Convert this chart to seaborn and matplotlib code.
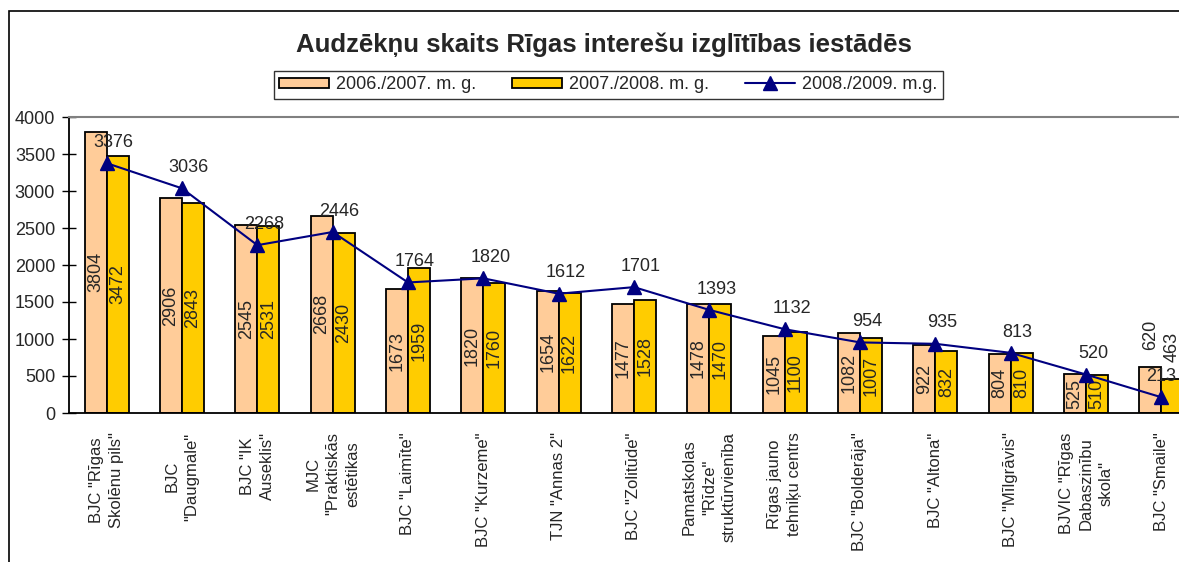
import numpy as np
import pandas as pd
import matplotlib
matplotlib.use("Agg")
import matplotlib.pyplot as plt
from matplotlib.patches import Patch, Rectangle
from matplotlib.lines import Line2D
import seaborn as sns

# Data
schools = [
    'BJC "Rīgas\nSkolēnu pils"',
    'BJC\n"Daugmale"',
    'BJC "IK\nAuseklis"',
    'MJC\n"Praktiskās\nestētikas',
    'BJC "Laimīte"',
    'BJC "Kurzeme"',
    'TJN "Annas 2"',
    'BJC "Zolitūde"',
    'Pamatskolas\n"Rīdze"\nstruktūrvienība',
    'Rīgas jauno\ntehniķu centrs',
    'BJC "Bolderāja"',
    'BJC "Altona"',
    'BJC "Mīlgrāvis"',
    'BJVIC "Rīgas\nDabaszinību\nskola"',
    'BJC "Smaile"',
]
y2006 = [3804, 2906, 2545, 2668, 1673, 1820, 1654, 1477, 1478, 1045, 1082, 922, 804, 525, 620]
y2007 = [3472, 2843, 2531, 2430, 1959, 1760, 1622, 1528, 1470, 1100, 1007, 832, 810, 510, 463]
y2008 = [3376, 3036, 2268, 2446, 1764, 1820, 1612, 1701, 1393, 1132, 954, 935, 813, 520, 213]
series = ["2006./2007. m. g.", "2007./2008. m. g.", "2008./2009. m.g."]
colors = {series[0]: "#FFCC99", series[1]: "#FFCC00"}
line_color = "#000080"

sns.set_theme(style="white")
plt.rcParams["font.family"] = ["Liberation Sans", "DejaVu Sans"]

bars = pd.DataFrame({
    "school": schools * 2,
    "year": [series[0]] * len(schools) + [series[1]] * len(schools),
    "count": y2006 + y2007,
})

fig = plt.figure(figsize=(11.79, 5.62), dpi=100)
ax = fig.add_axes([69 / 1179, 1 - 413 / 562, 1130 / 1179, 296 / 562])

sns.barplot(data=bars, x="school", y="count", hue="year", palette=colors,
            hue_order=series[:2], order=schools, width=0.58, saturation=1,
            edgecolor="black", linewidth=1.3, legend=False, ax=ax)

n = len(schools)
ax.plot(np.arange(n), y2008, color=line_color, marker="^", markersize=10,
        linewidth=1.5, zorder=5)

# bar labels: rotated, inside; last group outside
for cont, vals in zip(ax.containers, [y2006, y2007]):
    inside = [str(v) for v in vals[:-1]] + [""]
    outside = [""] * (n - 1) + [str(vals[-1])]
    ax.bar_label(cont, labels=inside, label_type="center", rotation=90, fontsize=13)
    ax.bar_label(cont, labels=outside, label_type="edge", rotation=90, padding=12, fontsize=13)

for i, v in enumerate(y2008):
    dx = 5 if i < n - 1 else 0
    ax.annotate(str(v), (i, v), xytext=(dx, 15), textcoords="offset points",
                ha="center", va="center", fontsize=13, zorder=6)

ax.set_xlim(-0.5, n - 0.5)
ax.set_ylim(0, 4000)
ax.set_yticks(np.arange(0, 4001, 500))
ax.set_xlabel("")
ax.set_ylabel("")

ax.set_xticks(np.arange(n - 1) + 0.5, minor=True)
ax.set_xticks(np.arange(n))
ax.set_xticklabels(schools, rotation=90, ha="center", va="top",
                   multialignment="center", fontsize=12, linespacing=1.4)
ax.tick_params(axis="x", which="major", length=0, pad=14)
ax.tick_params(axis="x", which="minor", direction="inout", length=10, width=1, color="black")
ax.tick_params(axis="y", direction="inout", length=10, width=1, color="black",
               labelsize=13, pad=5, left=True)

for side in ["left", "bottom"]:
    ax.spines[side].set_color("black")
    ax.spines[side].set_linewidth(1.3)
ax.spines["top"].set_color("#808080")
ax.spines["top"].set_linewidth(1.5)
ax.spines["right"].set_visible(False)

fig.text(0.512, 0.92, "Audzēkņu skaits Rīgas interešu izglītības iestādēs",
         ha="center", va="center", fontsize=18.5, fontweight="bold")

handles = [
    Patch(facecolor=colors[series[0]], edgecolor="black", linewidth=1.3),
    Patch(facecolor=colors[series[1]], edgecolor="black", linewidth=1.3),
    Line2D([], [], color=line_color, marker="^", markersize=10, linewidth=1.5),
]
leg = fig.legend(handles, series, loc="center", bbox_to_anchor=(0.516, 0.849),
                 ncol=3, frameon=True, fancybox=False, edgecolor="black",
                 fontsize=13, handlelength=2.75, handleheight=0.55,
                 columnspacing=2.0, handletextpad=0.4, borderpad=0.3,
                 borderaxespad=0)
leg.get_frame().set_linewidth(1.0)

fig.patches.append(Rectangle((9 / 1179, -0.05), 1.2, 1 - 11 / 562 + 0.05,
                             transform=fig.transFigure, fill=False,
                             edgecolor="black", linewidth=1.2))

fig.savefig("out.png", dpi=100)
